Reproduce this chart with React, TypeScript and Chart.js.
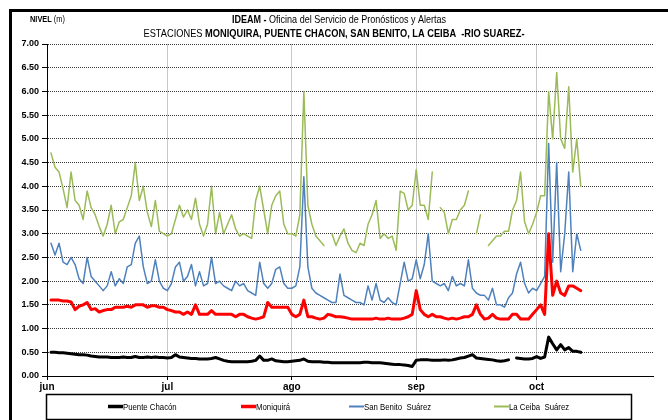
import React, { useEffect, useRef } from 'react';
import { Chart, registerables } from 'chart.js';

Chart.register(...registerables);

const monthLabels = ['jun', 'jul', 'ago', 'sep', 'oct'];
const monthStarts = [0, 30, 61, 92, 122];
const seriesNames = ['Puente Chacón', 'Moniquirá', 'San Benito  Suárez', 'La Ceiba  Suárez'];
const seriesColors = ['#000000', '#FF0000', '#4F81BD', '#9BBB59'];

// daily levels (m); index = day since 1 jun
const puenteChacon = [null,
  0.5, 0.5, 0.49, 0.49, 0.48, 0.47, 0.46, 0.45, 0.45, 0.44, 0.42, 0.41, 0.4, 0.4, 0.4, 0.39, 0.39, 0.39, 0.4, 0.39,
  0.39, 0.41, 0.39, 0.39, 0.4, 0.39, 0.4, 0.39, 0.39, 0.38, 0.39, 0.45, 0.4, 0.39, 0.38, 0.37, 0.37, 0.36, 0.36, 0.36,
  0.37, 0.39, 0.36, 0.33, 0.31, 0.3, 0.3, 0.3, 0.3, 0.3, 0.31, 0.33, 0.42, 0.33, 0.33, 0.36, 0.32, 0.31, 0.3, 0.3,
  0.31, 0.32, 0.33, 0.36, 0.31, 0.3, 0.3, 0.3, 0.29, 0.29, 0.28, 0.28, 0.28, 0.28, 0.28, 0.28, 0.28, 0.28, 0.29, 0.29,
  0.28, 0.28, 0.28, 0.27, 0.26, 0.25, 0.24, 0.24, 0.23, 0.22, 0.2, 0.33, 0.34, 0.34, 0.34, 0.33, 0.33, 0.33, 0.34, 0.33,
  0.34, 0.36, 0.38, 0.39, 0.42, 0.45, 0.38, 0.37, 0.36, 0.35, 0.34, 0.32, 0.31, 0.32, 0.34, null, 0.38, 0.37, 0.36, 0.36,
  0.37, 0.41, 0.37, 0.4, 0.82, 0.68, 0.55, 0.66, 0.55, 0.6, 0.52, 0.52, 0.5];

const moniquira = [null,
  1.6, 1.6, 1.6, 1.58, 1.58, 1.56, 1.4, 1.47, 1.5, 1.55, 1.4, 1.42, 1.35, 1.38, 1.4, 1.4, 1.45, 1.45, 1.45, 1.47,
  1.45, 1.5, 1.5, 1.5, 1.45, 1.48, 1.48, 1.45, 1.45, 1.4, 1.38, 1.35, 1.35, 1.3, 1.35, 1.3, 1.5, 1.3, 1.3, 1.3,
  1.38, 1.3, 1.3, 1.3, 1.3, 1.3, 1.25, 1.3, 1.3, 1.25, 1.22, 1.2, 1.22, 1.25, 1.55, 1.45, 1.45, 1.45, 1.45, 1.45,
  1.3, 1.25, 1.3, 1.6, 1.25, 1.25, 1.22, 1.2, 1.22, 1.3, 1.28, 1.25, 1.25, 1.24, 1.22, 1.2, 1.2, 1.2, 1.2, 1.2,
  1.2, 1.22, 1.2, 1.2, 1.22, 1.2, 1.2, 1.2, 1.22, 1.25, 1.3, 1.8, 1.4, 1.3, 1.25, 1.3, 1.25, 1.25, 1.22, 1.2,
  1.22, 1.2, 1.22, 1.25, 1.25, 1.3, 1.5, 1.3, 1.2, 1.22, 1.3, 1.22, 1.2, 1.2, 1.2, 1.3, 1.3, 1.2, 1.2, 1.2,
  1.3, 1.4, 1.5, 1.3, 3.0, 1.7, 2.0, 1.75, 1.7, 1.9, 1.9, 1.85, 1.8];

const sanBenito = [null,
  2.8, 2.55, 2.8, 2.4, 2.35, 2.5, 2.35, 2.05, 1.95, 2.5, 2.1, 2.0, 1.9, 1.8, 1.9, 2.2, 1.9, 2.05, 1.95, 2.3,
  2.35, 2.8, 2.95, 2.3, 1.95, 2.0, 2.45, 2.0, 1.85, 1.8, 1.95, 2.3, 2.4, 2.0, 2.1, 2.35, 1.9, 2.2, 1.9, 1.95,
  2.5, 1.95, 2.0, 1.9, 1.85, 1.8, 2.0, 1.9, 1.95, 1.8, 1.75, 1.7, 2.4, 1.95, 1.85, 1.95, 2.25, 2.3, 1.95, 1.85,
  1.85, 1.9, 2.3, 4.2, 2.3, 1.85, 1.75, 1.7, 1.65, 1.6, 1.55, 1.55, 2.15, 1.7, 1.65, 1.6, 1.55, 1.55, 1.5, 1.9,
  1.6, 1.95, 1.6, 1.55, 1.65, 1.55, 1.5, 1.95, 2.4, 2.0, 2.05, 2.45, 2.05, 2.35, 3.0, 2.0, 1.95, 1.9, 1.95, 1.8,
  2.1, 1.9, 1.95, 1.9, 2.45, 1.85, 1.75, 1.7, 1.7, 1.6, 1.85, 1.5, 1.5, 1.45, 1.65, 1.75, 2.15, 2.4, 1.95, 1.75,
  1.85, 1.8, 1.95, 2.1, 4.9, 2.4, 4.5, 2.2, 3.0, 4.3, 2.2, 3.0, 2.65];

const laCeiba = [null,
  4.7, 4.4, 4.3, 3.95, 3.55, 4.3, 3.7, 3.6, 3.3, 3.9, 3.55, 3.4, 3.15, 2.95, 3.2, 3.6, 3.0, 3.25, 3.3, 3.55,
  3.8, 4.5, 3.7, 4.0, 3.45, 3.15, 3.7, 3.05, 3.0, 2.95, 3.0, 3.3, 3.6, 3.35, 3.5, 3.3, 3.75, 3.2, 2.95, 3.2,
  4.0, 3.0, 3.45, 3.0, 3.2, 3.4, 3.1, 2.95, 3.0, 2.95, 2.9, 3.7, 4.0, 3.5, 3.0, 3.6, 3.8, 3.9, 3.2, 3.0,
  3.0, 2.95, 3.4, 6.0, 3.6, 3.2, 2.95, 2.85, 2.75, null, 3.0, 2.75, 2.95, 3.1, 2.8, 2.65, 2.6, 2.8, 2.75, 3.2,
  3.4, 3.7, 2.9, 3.0, 2.9, 2.95, 2.65, 3.9, 3.85, 3.5, 3.6, 4.35, 3.6, 3.6, 3.3, 4.3, null, 3.55, 3.45, 3.0,
  3.3, 3.3, 3.5, 3.6, 3.9, null, 3.0, 3.4, null, 2.75, 2.85, 2.95, 2.95, 3.05, 3.05, 3.5, 3.7, 4.3, 3.25, 3.0,
  3.2, 3.45, 3.8, 3.8, 6.0, 5.0, 6.4, 5.0, 4.8, 6.1, 4.3, 5.0, 4.0];

const seriesValues = [puenteChacon, moniquira, sanBenito, laCeiba];
const seriesWidths = [3, 3, 1.5, 1.5];

const SANS = "'Liberation Sans', Arial, sans-serif";
const NARROW_SCALE = 0.82;

const decor = {
  id: 'decor',
  afterDraw(chart: any) {
    const ctx = chart.ctx as CanvasRenderingContext2D;
    ctx.save();
    // frame
    ctx.fillStyle = '#000';
    ctx.fillRect(9, 9, 668 - 9, 3);
    ctx.fillRect(9, 9, 3, 420 - 9);

    ctx.textBaseline = 'middle';
    ctx.textAlign = 'left';

    const fontOf = (b: boolean, size: number) => `${b ? 'bold ' : ''}${size}px ${SANS}`;
    const narrowText = (t: string, x: number, y: number) => {
      ctx.save();
      ctx.translate(x, y);
      ctx.scale(NARROW_SCALE, 1);
      ctx.fillText(t, 0, 0);
      ctx.restore();
    };
    const runs = (parts: [string, boolean][], x0: number, y: number, size: number, center: boolean) => {
      const ws = parts.map(([t, b]) => {
        ctx.font = fontOf(b, size);
        return ctx.measureText(t).width * NARROW_SCALE;
      });
      const total = ws.reduce((a, b) => a + b, 0);
      let x = center ? x0 - total / 2 : x0;
      parts.forEach(([t, b], i) => {
        ctx.font = fontOf(b, size);
        narrowText(t, x, y);
        x += ws[i];
      });
    };

    ctx.fillStyle = '#000';
    runs([['NIVEL ', true], ['(m)', false]], 30, 20, 9, false);
    runs([['IDEAM - ', true], ['Oficina del Servicio de Pronósticos y Alertas', false]], 339, 20, 11, true);
    runs([['ESTACIONES ', false], ['MONIQUIRA, PUENTE CHACON, SAN BENITO, LA CEIBA  -RIO SUAREZ-', true]], 334, 34, 11.3, true);

    // legend
    ctx.strokeStyle = '#000';
    ctx.lineWidth = 1.5;
    ctx.strokeRect(46.5, 394.5, 585, 25);
    const itemX = [108, 241, 349, 494];
    seriesNames.forEach((n, i) => {
      ctx.beginPath();
      ctx.strokeStyle = seriesColors[i];
      ctx.lineWidth = seriesWidths[i] + 0.5;
      ctx.moveTo(itemX[i], 406.5);
      ctx.lineTo(itemX[i] + 15, 406.5);
      ctx.stroke();
      ctx.fillStyle = '#000';
      ctx.font = fontOf(false, 9.5);
      narrowText(n, itemX[i] + 15, 407);
    });
    ctx.restore();
  },
};

export default function App() {
  const ref = useRef<HTMLCanvasElement>(null);
  useEffect(() => {
    if (!ref.current) return;
    const datasets = seriesValues.map((vals, s) => ({
      label: seriesNames[s],
      data: vals.map((v, i) => ({ x: i, y: v })),
      borderColor: seriesColors[s],
      backgroundColor: seriesColors[s],
      borderWidth: seriesWidths[s],
      pointRadius: 0,
      tension: 0,
      spanGaps: false,
      borderJoinStyle: 'round' as const,
      borderCapStyle: 'round' as const,
    }));
    const chart = new Chart(ref.current, {
      type: 'line',
      data: { datasets },
      options: {
        animation: false,
        responsive: false,
        devicePixelRatio: 1,
        layout: { padding: { left: 0, top: 44, right: 15, bottom: 0 } },
        plugins: { legend: { display: false }, title: { display: false }, tooltip: { enabled: false } },
        scales: {
          x: {
            type: 'linear',
            min: 0,
            max: 151,
            afterBuildTicks: (axis: any) => {
              axis.ticks = monthStarts.map((v) => ({ value: v }));
            },
            afterFit: (s: any) => {
              s.height = 44;
            },
            ticks: {
              autoSkip: false,
              maxRotation: 0,
              padding: 1,
              color: '#000',
              font: { family: SANS, size: 10, weight: 'bold' },
              callback: (v: any) => {
                const k = monthStarts.indexOf(Number(v));
                return k >= 0 ? monthLabels[k] : '';
              },
            },
            grid: { color: '#c8c8c8', lineWidth: 1, tickLength: 4, tickColor: '#000' },
            border: { display: true, color: '#000', width: 1 },
          },
          y: {
            min: 0,
            max: 7,
            afterFit: (s: any) => {
              s.width = 47;
            },
            ticks: {
              stepSize: 0.5,
              padding: 3,
              color: '#000',
              font: { family: SANS, size: 9, weight: 'bold' },
              callback: (v: any) => Number(v).toFixed(2),
            },
            grid: { color: '#333', lineWidth: 1, tickLength: 5, tickColor: '#000' },
            border: { display: true, color: '#000', width: 1, dash: [1, 1] },
          },
        },
      },
      plugins: [decor],
    });
    return () => chart.destroy();
  }, []);
  return (
    <div style={{ position: 'fixed', left: 0, top: 0, width: 668, height: 420, background: '#fff' }}>
      <canvas ref={ref} width={668} height={420} />
    </div>
  );
}
